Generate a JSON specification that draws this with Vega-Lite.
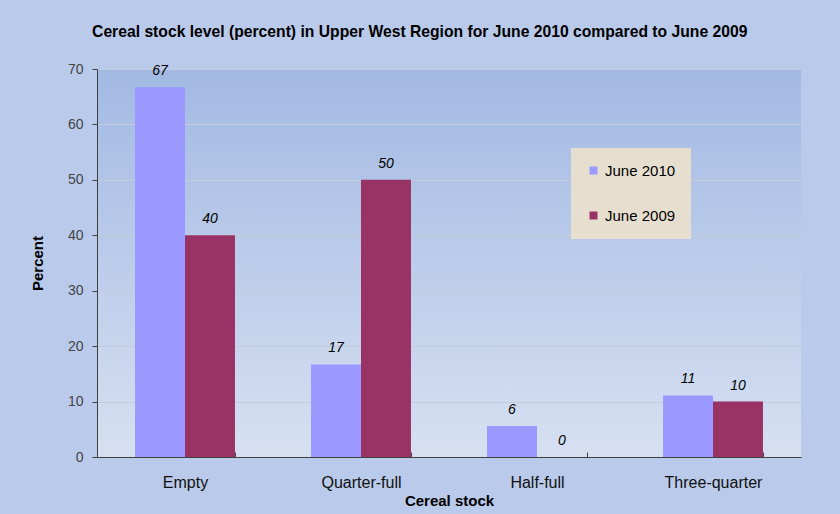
{
  "$schema": "https://vega.github.io/schema/vega-lite/v6.json",
  "width": 704,
  "height": 388,
  "autosize": {"type": "none"},
  "padding": {"left": 97, "top": 69, "right": 39, "bottom": 57},
  "background": "#B9CAEA",
  "title": {
    "text": "Cereal stock level (percent) in Upper West Region for June 2010 compared to June 2009",
    "font": "Liberation Sans",
    "fontSize": 15.7,
    "fontWeight": "bold",
    "color": "#000000",
    "anchor": "middle",
    "frame": "bounds",
    "dx": 4,
    "offset": 21
  },
  "config": {
    "font": "Liberation Sans",
    "view": {
      "stroke": null,
      "fill": {
        "gradient": "linear",
        "x1": 0, "y1": 0, "x2": 0, "y2": 1,
        "stops": [
          {"offset": 0, "color": "#A2B9E3"},
          {"offset": 1, "color": "#D6E0F1"}
        ]
      }
    }
  },
  "data": {
    "values": [
      {"stock": "Empty", "year": "June 2010", "value": 66.7, "label": "67"},
      {"stock": "Empty", "year": "June 2009", "value": 40, "label": "40"},
      {"stock": "Quarter-full", "year": "June 2010", "value": 16.7, "label": "17"},
      {"stock": "Quarter-full", "year": "June 2009", "value": 50, "label": "50"},
      {"stock": "Half-full", "year": "June 2010", "value": 5.6, "label": "6"},
      {"stock": "Half-full", "year": "June 2009", "value": 0, "label": "0"},
      {"stock": "Three-quarter", "year": "June 2010", "value": 11.1, "label": "11"},
      {"stock": "Three-quarter", "year": "June 2009", "value": 10, "label": "10"}
    ]
  },
  "encoding": {
    "x": {
      "field": "stock",
      "type": "nominal",
      "sort": ["Empty", "Quarter-full", "Half-full", "Three-quarter"],
      "scale": {"paddingInner": 0.432, "paddingOuter": 0.216},
      "axis": {
        "title": "Cereal stock",
        "titleFontSize": 15,
        "titleFontWeight": "bold",
        "titleColor": "#000000",
        "titlePadding": 3,
        "labelAngle": 0,
        "labelFontSize": 16,
        "labelColor": "#111111",
        "labelPadding": 22,
        "tickBand": "extent",
        "tickSize": -5,
        "tickColor": "#404040",
        "domainColor": "#404040",
        "grid": false
      }
    },
    "xOffset": {
      "field": "year",
      "type": "nominal",
      "sort": ["June 2010", "June 2009"],
      "scale": {"paddingInner": 0, "paddingOuter": 0}
    },
    "y": {
      "field": "value",
      "type": "quantitative",
      "scale": {"domain": [0, 70], "nice": false},
      "axis": {
        "title": "Percent",
        "titleFontSize": 15,
        "titleFontWeight": "bold",
        "titleColor": "#000000",
        "titlePadding": 22,
        "values": [0, 10, 20, 30, 40, 50, 60, 70],
        "labelFontSize": 14,
        "labelColor": "#444444",
        "labelPadding": 9,
        "tickSize": 5,
        "tickColor": "#404040",
        "domainColor": "#404040",
        "gridColor": "#C3CCDC",
        "gridWidth": 1
      }
    }
  },
  "layer": [
    {
      "mark": {"type": "bar"},
      "encoding": {
        "color": {
          "field": "year",
          "type": "nominal",
          "scale": {"domain": ["June 2010", "June 2009"], "range": ["#9999FF", "#993366"]},
          "legend": {
            "title": null,
            "orient": "none",
            "legendX": 474,
            "legendY": 79,
            "fillColor": "#E6DECF",
            "padding": 15,
            "symbolType": "square",
            "symbolSize": 64,
            "symbolStrokeWidth": 0,
            "labelFontSize": 15,
            "labelColor": "#000000",
            "labelOffset": 4,
            "rowPadding": 29
          }
        }
      }
    },
    {
      "mark": {"type": "text", "baseline": "bottom", "dy": -9, "fontSize": 14, "fontStyle": "italic", "color": "#000000"},
      "encoding": {
        "text": {"field": "label", "type": "nominal"}
      }
    }
  ]
}
